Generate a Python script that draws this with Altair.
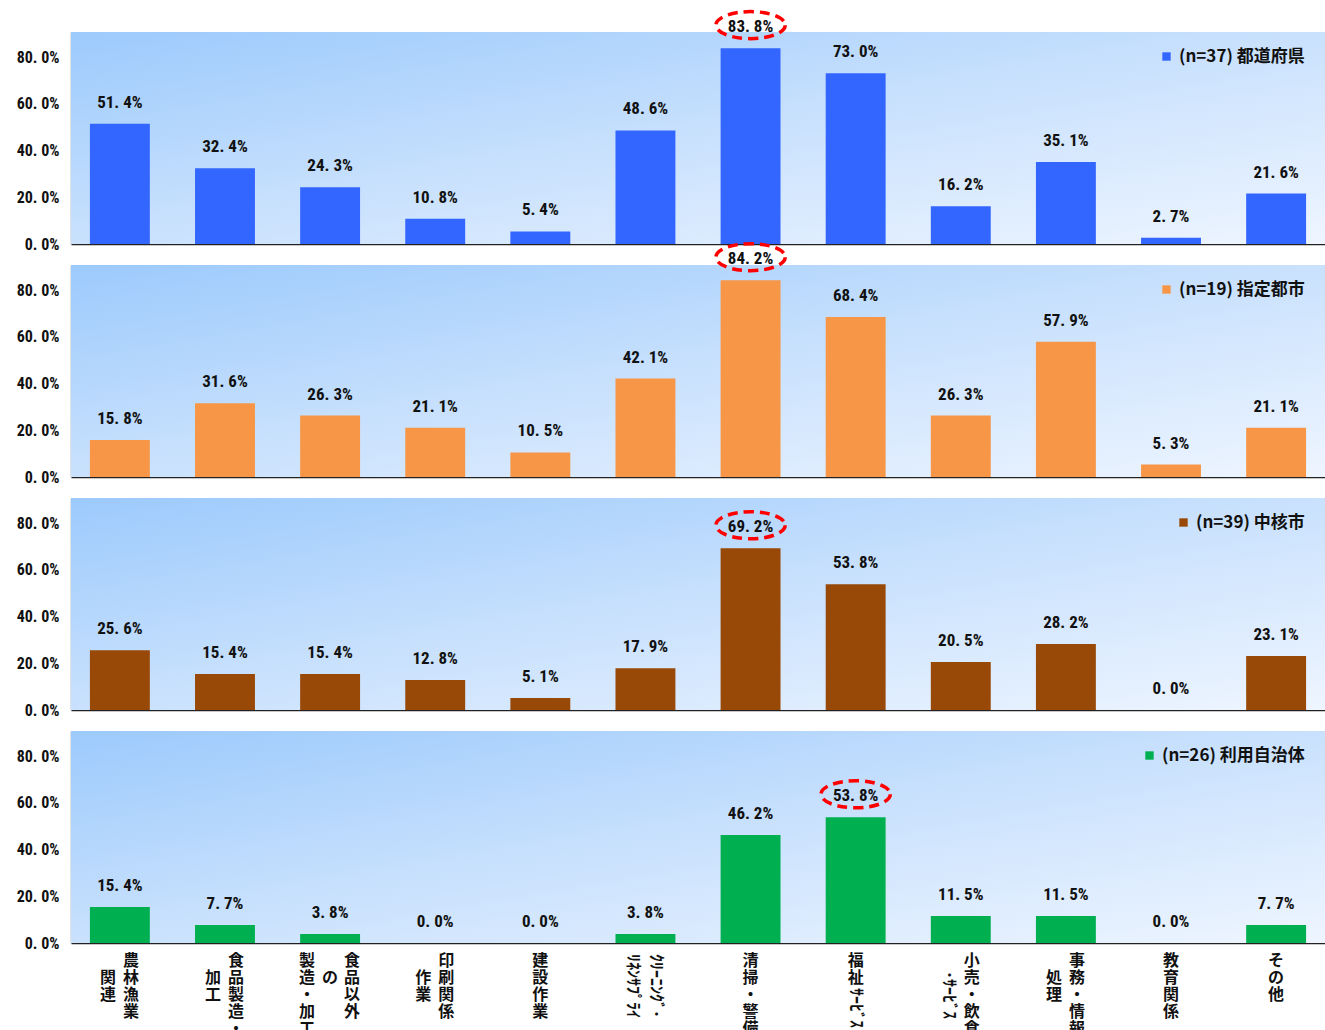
import altair as alt
import pandas as pd

# ---- data -------------------------------------------------------------
categories = [
    "農林漁業関連", "食品製造・加工", "食品以外の製造・加工", "印刷関係作業",
    "建設作業", "クリーニング・リネンサプライ", "清掃・警備", "福祉サービス",
    "小売・飲食・サービス", "事務・情報処理", "教育関係", "その他",
]

groups = ["(n=37)  都道府県", "(n=19)  指定都市", "(n=39)  中核市", "(n=26)  利用自治体"]
colors = ["#3366ff", "#f79646", "#984807", "#00b050"]

prefectures = [51.4, 32.4, 24.3, 10.8, 5.4, 48.6, 83.8, 73.0, 16.2, 35.1, 2.7, 21.6]
designated = [15.8, 31.6, 26.3, 21.1, 10.5, 42.1, 84.2, 68.4, 26.3, 57.9, 5.3, 21.1]
core_cities = [25.6, 15.4, 15.4, 12.8, 5.1, 17.9, 69.2, 53.8, 20.5, 28.2, 0.0, 23.1]
users = [15.4, 7.7, 3.8, 0.0, 0.0, 3.8, 46.2, 53.8, 11.5, 11.5, 0.0, 7.7]

series = [prefectures, designated, core_cities, users]

# vertical category labels: (category index, column slot, starting line, text, rotated)
label_pieces = [
    (0, "R", 0, "農林漁業", False), (0, "L", 1, "関連", False),
    (1, "R", 0, "食品製造・", False), (1, "L", 1, "加工", False),
    (2, "RR", 0, "食品以外", False), (2, "M", 1, "の", False), (2, "LL", 0, "製造・加工", False),
    (3, "R", 0, "印刷関係", False), (3, "L", 1, "作業", False),
    (4, "M", 0, "建設作業", False),
    (5, "R", 0, "ｸﾘｰﾆﾝｸﾞ･", True), (5, "L", 0, "ﾘﾈﾝｻﾌﾟﾗｲ", True),
    (6, "M", 0, "清掃・警備", False),
    (7, "M", 0, "福祉", False), (7, "M", 2, "ｻｰﾋﾞｽ", True),
    (8, "R", 0, "小売・飲食", False), (8, "L", 1, "･ｻｰﾋﾞｽ", True),
    (9, "R", 0, "事務・情報", False), (9, "L", 1, "処理", False),
    (10, "M", 0, "教育関係", False),
    (11, "M", 0, "その他", False),
]

# ---- style ------------------------------------------------------------
W, H = 1254, 212
AXIS_W = 71
YMAX = 90.7
PAD_IN, PAD_OUT = 0.43, 0.18
STEP = W / (len(categories) - PAD_IN + 2 * PAD_OUT)
HALF_BAND = STEP * (1 - PAD_IN) / 2
NUM_FONT = "Roboto Condensed, Roboto, sans-serif"
JP_FONT = "Noto Sans CJK JP"
PITCH = 17
SLOT_DX = {"RR": 22, "R": 11, "M": 0, "L": -12, "LL": -23}

# dashed ellipse drawn as a custom symbol (unit box, scaled by size)
ELLIPSE = ("M1,0 C1,0.2167 0.5523,0.39 0,0.39 C-0.5523,0.39 -1,0.2167 -1,0 "
           "C-1,-0.2167 -0.5523,-0.39 0,-0.39 C0.5523,-0.39 1,-0.2167 1,0 Z")

background = alt.LinearGradient(
    gradient="linear",
    stops=[
        alt.GradientStop(color="#9ccafc", offset=0),
        alt.GradientStop(color="#c9e1fd", offset=0.5),
        alt.GradientStop(color="#eef5ff", offset=1),
    ],
    x1=0, y1=0, x2=1, y2=1,
)

# offsets are measured from the start of each band
label_df = pd.DataFrame(
    {
        "cat": [categories[p[0]] for p in label_pieces],
        "dx": [SLOT_DX[p[1]] + HALF_BAND for p in label_pieces],
        "dy": [p[2] * PITCH for p in label_pieces],
        "txt": ["\n".join(p[3]) if not p[4] else p[3] for p in label_pieces],
        "rot": [p[4] for p in label_pieces],
    }
)

x_scale = alt.Scale(domain=categories, paddingInner=PAD_IN, paddingOuter=PAD_OUT)
y_scale = alt.Scale(domain=[0, YMAX], nice=False)
pct_expr = "replace(format(datum.value, '.1f'), '.', '. ') + '%'"


def panel(values, group, color, bottom):
    df = pd.DataFrame({"cat": categories, "value": values, "group": group})
    x = alt.X("cat:N", sort=categories, scale=x_scale,
              axis=alt.Axis(labels=False, ticks=False, title=None,
                            domainColor="#222222", domainWidth=1.5))
    y = alt.Y("value:Q", scale=y_scale,
              axis=alt.Axis(values=[0, 20, 40, 60, 80], grid=False, ticks=False, title=None,
                            labelExpr=pct_expr,
                            labelFont=NUM_FONT, labelFontSize=16, labelFontWeight="bold",
                            labelColor="#111111", labelPadding=12,
                            domainColor="#8a8a8a", domainWidth=1.5,
                            minExtent=AXIS_W, maxExtent=AXIS_W))

    bg = alt.Chart(alt.Data(values=[{}])).mark_rect(fill=background).encode(
        x=alt.value(0), x2=alt.value(W), y=alt.value(0), y2=alt.value(H)
    )

    base = alt.Chart(df).encode(x=x, y=y)

    bars = base.mark_bar().encode(
        color=alt.Color(
            "group:N",
            scale=alt.Scale(domain=[group], range=[color]),
            legend=alt.Legend(title=None, orient="top-right", offset=16, padding=0,
                              symbolType="square", symbolSize=70, symbolStrokeWidth=0,
                              labelFont=JP_FONT, labelFontSize=17, labelFontWeight="bold",
                              labelColor="#111111", labelLimit=400),
        )
    )

    values_text = base.transform_calculate(
        lbl=pct_expr
    ).mark_text(baseline="middle", dy=-21, font=NUM_FONT, fontSize=17,
                fontWeight="bold", color="#111111").encode(text="lbl:N")

    ring = base.transform_joinaggregate(mx="max(value)").transform_filter(
        "datum.value == datum.mx"
    ).mark_point(shape=ELLIPSE, size=4800, filled=False, color="#ff0000",
                 strokeWidth=3.5, strokeDash=[10, 6], opacity=1).encode(
        yOffset=alt.value(-23)
    )

    layers = [bg, bars, values_text, ring]

    if bottom:
        lab = alt.Chart(label_df)
        upright = lab.transform_filter("!datum.rot").mark_text(
            lineBreak="\n", lineHeight=PITCH, baseline="top", align="center",
            font=JP_FONT, fontSize=16, fontWeight="bold", color="#111111"
        ).encode(
            x=alt.X("cat:N", sort=categories),
            y=alt.value(H + 10),
            xOffset=alt.XOffset("dx:Q", scale=None),
            yOffset=alt.YOffset("dy:Q", scale=None),
            text="txt:N",
        )
        turned = lab.transform_filter("datum.rot").mark_text(
            angle=90, baseline="middle", align="left",
            font=JP_FONT, fontSize=16, fontWeight="bold", color="#111111"
        ).encode(
            x=alt.X("cat:N", sort=categories),
            y=alt.value(H + 11),
            xOffset=alt.XOffset("dx:Q", scale=None),
            yOffset=alt.YOffset("dy:Q", scale=None),
            text="txt:N",
        )
        layers += [upright, turned]

    return alt.layer(*layers).properties(width=W, height=H)


panels = [panel(series[i], groups[i], colors[i], i == 3) for i in range(4)]

chart = (
    alt.vconcat(*panels, spacing=21, bounds="flush")
    .resolve_scale(color="independent")
    .properties(padding={"left": 0, "top": 4, "right": 0, "bottom": 0}, background="white")
    .configure_view(stroke=None)
)

chart.save("out.html", embed_options={"renderer": "svg", "actions": False})
